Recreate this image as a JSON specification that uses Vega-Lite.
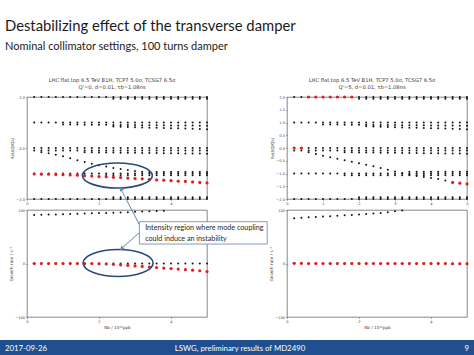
{
"$schema": "https://vega.github.io/schema/vega-lite/v6.json",
"padding": {"left": 0, "right": 0, "top": 18, "bottom": 0},
"background": "white",
"title": {"text": "Destabilizing effect of the transverse damper", "subtitle": "Nominal collimator settings, 100 turns damper", "anchor": "start", "frame": "group", "dx": 5, "offset": 26, "font": "Lato", "fontSize": 14.8, "fontWeight": "normal", "color": "#1b1b1b", "subtitleFont": "Lato", "subtitleFontSize": 11, "subtitleColor": "#1b1b1b", "subtitlePadding": 7},
"config": {
  "view": {"stroke": "#555555", "strokeWidth": 0.7},
  "axis": {"labelFont": "DejaVu Sans", "labelFontSize": 3.6, "labelColor": "#444444", "titleFont": "DejaVu Sans", "titleFontSize": 4.2, "titleFontWeight": "normal", "titleColor": "#444444", "tickSize": 1.5, "tickColor": "#555555", "tickWidth": 0.5, "domain": false, "grid": false, "labelPadding": 1, "labelOverlap": false, "labelFlush": false},
  "point": {"filled": true, "opacity": 1}
},
"datasets": {
"lt": [
{"x":0.2,"y":2,"m":"k"},{"x":0.4,"y":2,"m":"k"},{"x":0.6,"y":2,"m":"k"},{"x":0.8,"y":2,"m":"k"},{"x":1,"y":2,"m":"k"},{"x":1.2,"y":2,"m":"k"},{"x":1.4,"y":2,"m":"k"},{"x":1.6,"y":2,"m":"k"},{"x":1.8,"y":2,"m":"k"},{"x":2,"y":2,"m":"k"},{"x":2.2,"y":2,"m":"k"},{"x":2.4,"y":2,"m":"k"},{"x":2.6,"y":2,"m":"k"},{"x":2.8,"y":2,"m":"k"},{"x":3,"y":2,"m":"k"},{"x":3.2,"y":2,"m":"k"},{"x":3.4,"y":2,"m":"k"},{"x":3.6,"y":2,"m":"k"},{"x":3.8,"y":2,"m":"k"},{"x":4,"y":2,"m":"k"},{"x":4.2,"y":2,"m":"k"},{"x":4.4,"y":2,"m":"k"},{"x":4.6,"y":2,"m":"k"},{"x":4.8,"y":2,"m":"k"},{"x":5,"y":2,"m":"k"},
{"x":2.4,"y":1.93,"m":"k"},{"x":2.6,"y":1.93,"m":"k"},{"x":2.8,"y":1.93,"m":"k"},{"x":3,"y":1.93,"m":"k"},{"x":3.2,"y":1.93,"m":"k"},{"x":3.4,"y":1.93,"m":"k"},{"x":3.6,"y":1.93,"m":"k"},{"x":3.8,"y":1.93,"m":"k"},{"x":4,"y":1.93,"m":"k"},{"x":4.2,"y":1.93,"m":"k"},{"x":4.4,"y":1.93,"m":"k"},{"x":4.6,"y":1.93,"m":"k"},{"x":4.8,"y":1.93,"m":"k"},{"x":5,"y":1.93,"m":"k"},
{"x":0.2,"y":1,"m":"k"},{"x":0.4,"y":1,"m":"k"},{"x":0.6,"y":1,"m":"k"},{"x":0.8,"y":1,"m":"k"},{"x":1,"y":1,"m":"k"},{"x":1.2,"y":1,"m":"k"},{"x":1.4,"y":1,"m":"k"},{"x":1.6,"y":1,"m":"k"},{"x":1.8,"y":1,"m":"k"},{"x":2,"y":1,"m":"k"},{"x":2.2,"y":1,"m":"k"},{"x":2.4,"y":1,"m":"k"},{"x":2.6,"y":1,"m":"k"},{"x":2.8,"y":1,"m":"k"},{"x":3,"y":1,"m":"k"},{"x":3.2,"y":1,"m":"k"},{"x":3.4,"y":1,"m":"k"},{"x":3.6,"y":1,"m":"k"},{"x":3.8,"y":1,"m":"k"},{"x":4,"y":1,"m":"k"},{"x":4.2,"y":1,"m":"k"},{"x":4.4,"y":1,"m":"k"},{"x":4.6,"y":1,"m":"k"},{"x":4.8,"y":1,"m":"k"},{"x":5,"y":1,"m":"k"},
{"x":1,"y":0.92,"m":"k"},{"x":1.2,"y":0.92,"m":"k"},{"x":1.4,"y":0.92,"m":"k"},{"x":1.6,"y":0.915,"m":"k"},{"x":1.8,"y":0.915,"m":"k"},{"x":2,"y":0.91,"m":"k"},{"x":2.2,"y":0.91,"m":"k"},{"x":2.4,"y":0.905,"m":"k"},{"x":2.6,"y":0.905,"m":"k"},{"x":2.8,"y":0.9,"m":"k"},{"x":3,"y":0.9,"m":"k"},{"x":3.2,"y":0.895,"m":"k"},{"x":3.4,"y":0.895,"m":"k"},{"x":3.6,"y":0.89,"m":"k"},{"x":3.8,"y":0.89,"m":"k"},{"x":4,"y":0.885,"m":"k"},{"x":4.2,"y":0.885,"m":"k"},{"x":4.4,"y":0.88,"m":"k"},{"x":4.6,"y":0.88,"m":"k"},{"x":4.8,"y":0.875,"m":"k"},{"x":5,"y":0.875,"m":"k"},
{"x":2.4,"y":0.84,"m":"k"},{"x":2.6,"y":0.83,"m":"k"},{"x":2.8,"y":0.82,"m":"k"},{"x":3,"y":0.81,"m":"k"},{"x":3.2,"y":0.8,"m":"k"},{"x":3.4,"y":0.795,"m":"k"},{"x":3.6,"y":0.79,"m":"k"},{"x":3.8,"y":0.78,"m":"k"},{"x":4,"y":0.775,"m":"k"},{"x":4.2,"y":0.77,"m":"k"},{"x":4.4,"y":0.76,"m":"k"},{"x":4.6,"y":0.755,"m":"k"},{"x":4.8,"y":0.75,"m":"k"},{"x":5,"y":0.74,"m":"k"},
{"x":0.2,"y":0,"m":"k"},{"x":0.4,"y":0,"m":"k"},{"x":0.6,"y":0,"m":"k"},{"x":0.8,"y":0,"m":"k"},{"x":1,"y":0,"m":"k"},{"x":1.2,"y":0,"m":"k"},{"x":1.4,"y":0,"m":"k"},{"x":1.6,"y":0,"m":"k"},{"x":1.8,"y":0,"m":"k"},{"x":2,"y":0,"m":"k"},{"x":2.2,"y":0,"m":"k"},{"x":2.4,"y":0,"m":"k"},{"x":2.6,"y":0,"m":"k"},{"x":2.8,"y":0,"m":"k"},{"x":3,"y":0,"m":"k"},{"x":3.2,"y":0,"m":"k"},{"x":3.4,"y":0,"m":"k"},{"x":3.6,"y":0,"m":"k"},{"x":3.8,"y":0,"m":"k"},{"x":4,"y":0,"m":"k"},{"x":4.2,"y":0,"m":"k"},{"x":4.4,"y":0,"m":"k"},{"x":4.6,"y":0,"m":"k"},{"x":4.8,"y":0,"m":"k"},{"x":5,"y":0,"m":"k"},
{"x":0.2,"y":-0.1,"m":"k"},{"x":0.4,"y":-0.1,"m":"k"},{"x":0.6,"y":-0.1,"m":"k"},{"x":0.8,"y":-0.1,"m":"k"},{"x":1,"y":-0.1,"m":"k"},{"x":1.2,"y":-0.1,"m":"k"},{"x":1.4,"y":-0.1,"m":"k"},{"x":1.6,"y":-0.1,"m":"k"},{"x":1.8,"y":-0.1,"m":"k"},{"x":2,"y":-0.1,"m":"k"},{"x":2.2,"y":-0.1,"m":"k"},{"x":2.4,"y":-0.1,"m":"k"},{"x":2.6,"y":-0.1,"m":"k"},{"x":2.8,"y":-0.1,"m":"k"},{"x":3,"y":-0.1,"m":"k"},{"x":3.2,"y":-0.1,"m":"k"},{"x":3.4,"y":-0.1,"m":"k"},{"x":3.6,"y":-0.1,"m":"k"},{"x":3.8,"y":-0.1,"m":"k"},{"x":4,"y":-0.1,"m":"k"},{"x":4.2,"y":-0.1,"m":"k"},{"x":4.4,"y":-0.1,"m":"k"},{"x":4.6,"y":-0.1,"m":"k"},{"x":4.8,"y":-0.1,"m":"k"},{"x":5,"y":-0.1,"m":"k"},
{"x":1.6,"y":-0.17,"m":"k"},{"x":1.8,"y":-0.17,"m":"k"},{"x":2,"y":-0.175,"m":"k"},{"x":2.2,"y":-0.18,"m":"k"},{"x":2.4,"y":-0.18,"m":"k"},{"x":2.6,"y":-0.185,"m":"k"},{"x":2.8,"y":-0.19,"m":"k"},{"x":3,"y":-0.19,"m":"k"},{"x":3.2,"y":-0.195,"m":"k"},{"x":3.4,"y":-0.2,"m":"k"},{"x":3.6,"y":-0.2,"m":"k"},{"x":3.8,"y":-0.205,"m":"k"},{"x":4,"y":-0.21,"m":"k"},{"x":4.2,"y":-0.21,"m":"k"},{"x":4.4,"y":-0.215,"m":"k"},{"x":4.6,"y":-0.22,"m":"k"},{"x":4.8,"y":-0.22,"m":"k"},{"x":5,"y":-0.225,"m":"k"},
{"x":0.4,"y":-0.17,"m":"k"},{"x":0.6,"y":-0.21,"m":"k"},{"x":0.8,"y":-0.26,"m":"k"},{"x":1,"y":-0.32,"m":"k"},{"x":1.2,"y":-0.4,"m":"k"},{"x":1.4,"y":-0.48,"m":"k"},{"x":1.6,"y":-0.55,"m":"k"},{"x":1.8,"y":-0.62,"m":"k"},{"x":2,"y":-0.68,"m":"k"},{"x":2.2,"y":-0.73,"m":"k"},{"x":2.4,"y":-0.78,"m":"k"},{"x":2.6,"y":-0.82,"m":"k"},{"x":2.8,"y":-0.86,"m":"k"},{"x":3,"y":-0.9,"m":"k"},{"x":3.2,"y":-0.93,"m":"k"},{"x":3.4,"y":-0.95,"m":"k"},
{"x":3.6,"y":-0.94,"m":"k"},{"x":3.8,"y":-0.94,"m":"k"},{"x":4,"y":-0.94,"m":"k"},{"x":4.2,"y":-0.94,"m":"k"},{"x":4.4,"y":-0.94,"m":"k"},{"x":4.6,"y":-0.94,"m":"k"},{"x":4.8,"y":-0.94,"m":"k"},{"x":5,"y":-0.94,"m":"k"},
{"x":0.2,"y":-1,"m":"k"},{"x":0.4,"y":-1,"m":"k"},{"x":0.6,"y":-1,"m":"k"},{"x":0.8,"y":-1,"m":"k"},{"x":1,"y":-1,"m":"k"},{"x":1.2,"y":-1,"m":"k"},{"x":1.4,"y":-1,"m":"k"},{"x":1.6,"y":-1,"m":"k"},{"x":1.8,"y":-1,"m":"k"},{"x":2,"y":-1,"m":"k"},{"x":2.2,"y":-1,"m":"k"},{"x":2.4,"y":-1,"m":"k"},{"x":2.6,"y":-1,"m":"k"},{"x":2.8,"y":-1,"m":"k"},{"x":3,"y":-1,"m":"k"},{"x":3.2,"y":-1,"m":"k"},{"x":3.4,"y":-1,"m":"k"},{"x":3.6,"y":-1,"m":"k"},{"x":3.8,"y":-1,"m":"k"},{"x":4,"y":-1,"m":"k"},{"x":4.2,"y":-1,"m":"k"},{"x":4.4,"y":-1,"m":"k"},{"x":4.6,"y":-1,"m":"k"},{"x":4.8,"y":-1,"m":"k"},{"x":5,"y":-1,"m":"k"},
{"x":2.2,"y":-1.07,"m":"k"},{"x":2.4,"y":-1.07,"m":"k"},{"x":2.6,"y":-1.07,"m":"k"},{"x":2.8,"y":-1.07,"m":"k"},{"x":3,"y":-1.07,"m":"k"},{"x":3.2,"y":-1.07,"m":"k"},{"x":3.4,"y":-1.07,"m":"k"},{"x":3.6,"y":-1.07,"m":"k"},{"x":3.8,"y":-1.07,"m":"k"},{"x":4,"y":-1.07,"m":"k"},{"x":4.2,"y":-1.07,"m":"k"},{"x":4.4,"y":-1.07,"m":"k"},{"x":4.6,"y":-1.07,"m":"k"},{"x":4.8,"y":-1.07,"m":"k"},{"x":5,"y":-1.07,"m":"k"},
{"x":0.2,"y":-2,"m":"k"},{"x":0.4,"y":-2,"m":"k"},{"x":0.6,"y":-2,"m":"k"},{"x":0.8,"y":-2,"m":"k"},{"x":1,"y":-2,"m":"k"},{"x":1.2,"y":-2,"m":"k"},{"x":1.4,"y":-2,"m":"k"},{"x":1.6,"y":-2,"m":"k"},{"x":1.8,"y":-2,"m":"k"},{"x":2,"y":-2,"m":"k"},{"x":2.2,"y":-2,"m":"k"},{"x":2.4,"y":-2,"m":"k"},{"x":2.6,"y":-2,"m":"k"},{"x":2.8,"y":-2,"m":"k"},{"x":3,"y":-2,"m":"k"},{"x":3.2,"y":-2,"m":"k"},{"x":3.4,"y":-2,"m":"k"},{"x":3.6,"y":-2,"m":"k"},{"x":3.8,"y":-2,"m":"k"},{"x":4,"y":-2,"m":"k"},{"x":4.2,"y":-2,"m":"k"},{"x":4.4,"y":-2,"m":"k"},{"x":4.6,"y":-2,"m":"k"},{"x":4.8,"y":-2,"m":"k"},{"x":5,"y":-2,"m":"k"},
{"x":2.4,"y":-1.93,"m":"k"},{"x":2.6,"y":-1.93,"m":"k"},{"x":2.8,"y":-1.93,"m":"k"},{"x":3,"y":-1.93,"m":"k"},{"x":3.2,"y":-1.93,"m":"k"},{"x":3.4,"y":-1.93,"m":"k"},{"x":3.6,"y":-1.93,"m":"k"},{"x":3.8,"y":-1.93,"m":"k"},{"x":4,"y":-1.93,"m":"k"},{"x":4.2,"y":-1.93,"m":"k"},{"x":4.4,"y":-1.93,"m":"k"},{"x":4.6,"y":-1.93,"m":"k"},{"x":4.8,"y":-1.93,"m":"k"},{"x":5,"y":-1.93,"m":"k"},
{"x":0.2,"y":-1.02,"m":"r"},{"x":0.4,"y":-1.03,"m":"r"},{"x":0.6,"y":-1.03,"m":"r"},{"x":0.8,"y":-1.04,"m":"r"},{"x":1,"y":-1.05,"m":"r"},{"x":1.2,"y":-1.06,"m":"r"},{"x":1.4,"y":-1.07,"m":"r"},{"x":1.6,"y":-1.09,"m":"r"},{"x":1.8,"y":-1.1,"m":"r"},{"x":2,"y":-1.12,"m":"r"},{"x":2.2,"y":-1.13,"m":"r"},{"x":2.4,"y":-1.15,"m":"r"},{"x":2.6,"y":-1.16,"m":"r"},{"x":2.8,"y":-1.18,"m":"r"},{"x":3,"y":-1.2,"m":"r"},{"x":3.2,"y":-1.21,"m":"r"},{"x":3.4,"y":-1.23,"m":"r"},{"x":3.6,"y":-1.25,"m":"r"},{"x":3.8,"y":-1.26,"m":"r"},{"x":4,"y":-1.28,"m":"r"},{"x":4.2,"y":-1.3,"m":"r"},{"x":4.4,"y":-1.31,"m":"r"},{"x":4.6,"y":-1.33,"m":"r"},{"x":4.8,"y":-1.35,"m":"r"},{"x":5,"y":-1.37,"m":"r"}
],
"rt": [
{"x":0.2,"y":2,"m":"k"},{"x":0.4,"y":2,"m":"k"},{"x":0.6,"y":2,"m":"k"},{"x":0.8,"y":2,"m":"k"},{"x":1,"y":2,"m":"k"},{"x":1.2,"y":2,"m":"k"},{"x":1.4,"y":2,"m":"k"},{"x":1.6,"y":2,"m":"k"},{"x":1.8,"y":2,"m":"k"},{"x":2,"y":2,"m":"k"},{"x":2.2,"y":2,"m":"k"},{"x":2.4,"y":2,"m":"k"},{"x":2.6,"y":2,"m":"k"},{"x":2.8,"y":2,"m":"k"},{"x":3,"y":2,"m":"k"},{"x":3.2,"y":2,"m":"k"},{"x":3.4,"y":2,"m":"k"},{"x":3.6,"y":2,"m":"k"},{"x":3.8,"y":2,"m":"k"},{"x":4,"y":2,"m":"k"},{"x":4.2,"y":2,"m":"k"},{"x":4.4,"y":2,"m":"k"},{"x":4.6,"y":2,"m":"k"},{"x":4.8,"y":2,"m":"k"},{"x":5,"y":2,"m":"k"},
{"x":2,"y":1.93,"m":"k"},{"x":2.2,"y":1.93,"m":"k"},{"x":2.4,"y":1.93,"m":"k"},{"x":2.6,"y":1.93,"m":"k"},{"x":2.8,"y":1.93,"m":"k"},{"x":3,"y":1.93,"m":"k"},{"x":3.2,"y":1.93,"m":"k"},{"x":3.4,"y":1.93,"m":"k"},{"x":3.6,"y":1.93,"m":"k"},{"x":3.8,"y":1.93,"m":"k"},{"x":4,"y":1.93,"m":"k"},{"x":4.2,"y":1.93,"m":"k"},{"x":4.4,"y":1.93,"m":"k"},{"x":4.6,"y":1.93,"m":"k"},{"x":4.8,"y":1.93,"m":"k"},{"x":5,"y":1.93,"m":"k"},
{"x":0.2,"y":1,"m":"k"},{"x":0.4,"y":1,"m":"k"},{"x":0.6,"y":1,"m":"k"},{"x":0.8,"y":1,"m":"k"},{"x":1,"y":1,"m":"k"},{"x":1.2,"y":1,"m":"k"},{"x":1.4,"y":1,"m":"k"},{"x":1.6,"y":1,"m":"k"},{"x":1.8,"y":1,"m":"k"},{"x":2,"y":1,"m":"k"},{"x":2.2,"y":1,"m":"k"},{"x":2.4,"y":1,"m":"k"},{"x":2.6,"y":1,"m":"k"},{"x":2.8,"y":1,"m":"k"},{"x":3,"y":1,"m":"k"},{"x":3.2,"y":1,"m":"k"},{"x":3.4,"y":1,"m":"k"},{"x":3.6,"y":1,"m":"k"},{"x":3.8,"y":1,"m":"k"},{"x":4,"y":1,"m":"k"},{"x":4.2,"y":1,"m":"k"},{"x":4.4,"y":1,"m":"k"},{"x":4.6,"y":1,"m":"k"},{"x":4.8,"y":1,"m":"k"},{"x":5,"y":1,"m":"k"},
{"x":1,"y":0.92,"m":"k"},{"x":1.2,"y":0.92,"m":"k"},{"x":1.4,"y":0.92,"m":"k"},{"x":1.6,"y":0.915,"m":"k"},{"x":1.8,"y":0.915,"m":"k"},{"x":2,"y":0.91,"m":"k"},{"x":2.2,"y":0.91,"m":"k"},{"x":2.4,"y":0.905,"m":"k"},{"x":2.6,"y":0.905,"m":"k"},{"x":2.8,"y":0.9,"m":"k"},{"x":3,"y":0.9,"m":"k"},{"x":3.2,"y":0.895,"m":"k"},{"x":3.4,"y":0.895,"m":"k"},{"x":3.6,"y":0.89,"m":"k"},{"x":3.8,"y":0.89,"m":"k"},{"x":4,"y":0.885,"m":"k"},{"x":4.2,"y":0.885,"m":"k"},{"x":4.4,"y":0.88,"m":"k"},{"x":4.6,"y":0.88,"m":"k"},{"x":4.8,"y":0.875,"m":"k"},{"x":5,"y":0.875,"m":"k"},
{"x":2.2,"y":0.85,"m":"k"},{"x":2.4,"y":0.84,"m":"k"},{"x":2.6,"y":0.83,"m":"k"},{"x":2.8,"y":0.82,"m":"k"},{"x":3,"y":0.81,"m":"k"},{"x":3.2,"y":0.8,"m":"k"},{"x":3.4,"y":0.795,"m":"k"},{"x":3.6,"y":0.79,"m":"k"},{"x":3.8,"y":0.78,"m":"k"},{"x":4,"y":0.775,"m":"k"},{"x":4.2,"y":0.77,"m":"k"},{"x":4.4,"y":0.76,"m":"k"},{"x":4.6,"y":0.755,"m":"k"},{"x":4.8,"y":0.75,"m":"k"},{"x":5,"y":0.74,"m":"k"},
{"x":0.2,"y":0,"m":"k"},{"x":0.4,"y":0,"m":"k"},{"x":0.6,"y":0,"m":"k"},{"x":0.8,"y":0,"m":"k"},{"x":1,"y":0,"m":"k"},{"x":1.2,"y":0,"m":"k"},{"x":1.4,"y":0,"m":"k"},{"x":1.6,"y":0,"m":"k"},{"x":1.8,"y":0,"m":"k"},{"x":2,"y":0,"m":"k"},{"x":2.2,"y":0,"m":"k"},{"x":2.4,"y":0,"m":"k"},{"x":2.6,"y":0,"m":"k"},{"x":2.8,"y":0,"m":"k"},{"x":3,"y":0,"m":"k"},{"x":3.2,"y":0,"m":"k"},{"x":3.4,"y":0,"m":"k"},{"x":3.6,"y":0,"m":"k"},{"x":3.8,"y":0,"m":"k"},{"x":4,"y":0,"m":"k"},{"x":4.2,"y":0,"m":"k"},{"x":4.4,"y":0,"m":"k"},{"x":4.6,"y":0,"m":"k"},{"x":4.8,"y":0,"m":"k"},{"x":5,"y":0,"m":"k"},
{"x":0.2,"y":-0.1,"m":"k"},{"x":0.4,"y":-0.1,"m":"k"},{"x":0.6,"y":-0.1,"m":"k"},{"x":0.8,"y":-0.1,"m":"k"},{"x":1,"y":-0.1,"m":"k"},{"x":1.2,"y":-0.1,"m":"k"},{"x":1.4,"y":-0.1,"m":"k"},{"x":1.6,"y":-0.1,"m":"k"},{"x":1.8,"y":-0.1,"m":"k"},{"x":2,"y":-0.1,"m":"k"},{"x":2.2,"y":-0.1,"m":"k"},{"x":2.4,"y":-0.1,"m":"k"},{"x":2.6,"y":-0.1,"m":"k"},{"x":2.8,"y":-0.1,"m":"k"},{"x":3,"y":-0.1,"m":"k"},{"x":3.2,"y":-0.1,"m":"k"},{"x":3.4,"y":-0.1,"m":"k"},{"x":3.6,"y":-0.1,"m":"k"},{"x":3.8,"y":-0.1,"m":"k"},{"x":4,"y":-0.1,"m":"k"},{"x":4.2,"y":-0.1,"m":"k"},{"x":4.4,"y":-0.1,"m":"k"},{"x":4.6,"y":-0.1,"m":"k"},{"x":4.8,"y":-0.1,"m":"k"},{"x":5,"y":-0.1,"m":"k"},
{"x":1.6,"y":-0.17,"m":"k"},{"x":1.8,"y":-0.17,"m":"k"},{"x":2,"y":-0.175,"m":"k"},{"x":2.2,"y":-0.18,"m":"k"},{"x":2.4,"y":-0.18,"m":"k"},{"x":2.6,"y":-0.185,"m":"k"},{"x":2.8,"y":-0.19,"m":"k"},{"x":3,"y":-0.19,"m":"k"},{"x":3.2,"y":-0.195,"m":"k"},{"x":3.4,"y":-0.2,"m":"k"},{"x":3.6,"y":-0.2,"m":"k"},{"x":3.8,"y":-0.205,"m":"k"},{"x":4,"y":-0.21,"m":"k"},{"x":4.2,"y":-0.21,"m":"k"},{"x":4.4,"y":-0.215,"m":"k"},{"x":4.6,"y":-0.22,"m":"k"},{"x":4.8,"y":-0.22,"m":"k"},{"x":5,"y":-0.225,"m":"k"},
{"x":0.6,"y":-0.17,"m":"k"},{"x":0.8,"y":-0.24,"m":"k"},{"x":1,"y":-0.3,"m":"k"},{"x":1.2,"y":-0.36,"m":"k"},{"x":1.4,"y":-0.42,"m":"k"},{"x":1.6,"y":-0.48,"m":"k"},{"x":1.8,"y":-0.54,"m":"k"},{"x":2,"y":-0.6,"m":"k"},{"x":2.2,"y":-0.66,"m":"k"},{"x":2.4,"y":-0.72,"m":"k"},{"x":2.6,"y":-0.78,"m":"k"},{"x":2.8,"y":-0.85,"m":"k"},{"x":3,"y":-0.92,"m":"k"},{"x":3.2,"y":-0.98,"m":"k"},{"x":3.4,"y":-1.05,"m":"k"},{"x":3.6,"y":-1.1,"m":"k"},{"x":3.8,"y":-1.14,"m":"k"},{"x":4,"y":-1.18,"m":"k"},{"x":4.2,"y":-1.22,"m":"k"},{"x":4.4,"y":-1.27,"m":"k"},
{"x":0.2,"y":-1,"m":"k"},{"x":0.4,"y":-1,"m":"k"},{"x":0.6,"y":-1,"m":"k"},{"x":0.8,"y":-1,"m":"k"},{"x":1,"y":-1,"m":"k"},{"x":1.2,"y":-1,"m":"k"},{"x":1.4,"y":-1,"m":"k"},{"x":1.6,"y":-1,"m":"k"},{"x":1.8,"y":-1,"m":"k"},{"x":2,"y":-1,"m":"k"},{"x":2.2,"y":-1,"m":"k"},{"x":2.4,"y":-1,"m":"k"},{"x":2.6,"y":-1,"m":"k"},{"x":2.8,"y":-1,"m":"k"},{"x":3,"y":-1,"m":"k"},{"x":3.2,"y":-1,"m":"k"},{"x":3.4,"y":-1,"m":"k"},{"x":3.6,"y":-1,"m":"k"},{"x":3.8,"y":-1,"m":"k"},{"x":4,"y":-1,"m":"k"},{"x":4.2,"y":-1,"m":"k"},{"x":4.4,"y":-1,"m":"k"},{"x":4.6,"y":-1,"m":"k"},{"x":4.8,"y":-1,"m":"k"},{"x":5,"y":-1,"m":"k"},
{"x":1.6,"y":-1.07,"m":"k"},{"x":1.8,"y":-1.07,"m":"k"},{"x":2,"y":-1.07,"m":"k"},{"x":2.2,"y":-1.07,"m":"k"},{"x":2.4,"y":-1.07,"m":"k"},{"x":2.6,"y":-1.07,"m":"k"},{"x":2.8,"y":-1.07,"m":"k"},{"x":3,"y":-1.07,"m":"k"},{"x":3.2,"y":-1.07,"m":"k"},{"x":3.4,"y":-1.07,"m":"k"},{"x":3.6,"y":-1.07,"m":"k"},{"x":3.8,"y":-1.07,"m":"k"},{"x":4,"y":-1.07,"m":"k"},{"x":4.2,"y":-1.07,"m":"k"},{"x":4.4,"y":-1.07,"m":"k"},{"x":4.6,"y":-1.07,"m":"k"},{"x":4.8,"y":-1.07,"m":"k"},{"x":5,"y":-1.07,"m":"k"},
{"x":3.4,"y":-0.93,"m":"k"},{"x":3.6,"y":-0.93,"m":"k"},{"x":3.8,"y":-0.93,"m":"k"},{"x":4,"y":-0.93,"m":"k"},{"x":4.2,"y":-0.93,"m":"k"},{"x":4.4,"y":-0.93,"m":"k"},{"x":4.6,"y":-0.93,"m":"k"},{"x":4.8,"y":-0.93,"m":"k"},{"x":5,"y":-0.93,"m":"k"},
{"x":0.2,"y":-2,"m":"k"},{"x":0.4,"y":-2,"m":"k"},{"x":0.6,"y":-2,"m":"k"},{"x":0.8,"y":-2,"m":"k"},{"x":1,"y":-2,"m":"k"},{"x":1.2,"y":-2,"m":"k"},{"x":1.4,"y":-2,"m":"k"},{"x":1.6,"y":-2,"m":"k"},{"x":1.8,"y":-2,"m":"k"},{"x":2,"y":-2,"m":"k"},{"x":2.2,"y":-2,"m":"k"},{"x":2.4,"y":-2,"m":"k"},{"x":2.6,"y":-2,"m":"k"},{"x":2.8,"y":-2,"m":"k"},{"x":3,"y":-2,"m":"k"},{"x":3.2,"y":-2,"m":"k"},{"x":3.4,"y":-2,"m":"k"},{"x":3.6,"y":-2,"m":"k"},{"x":3.8,"y":-2,"m":"k"},{"x":4,"y":-2,"m":"k"},{"x":4.2,"y":-2,"m":"k"},{"x":4.4,"y":-2,"m":"k"},{"x":4.6,"y":-2,"m":"k"},{"x":4.8,"y":-2,"m":"k"},{"x":5,"y":-2,"m":"k"},
{"x":2,"y":-1.93,"m":"k"},{"x":2.2,"y":-1.93,"m":"k"},{"x":2.4,"y":-1.93,"m":"k"},{"x":2.6,"y":-1.93,"m":"k"},{"x":2.8,"y":-1.93,"m":"k"},{"x":3,"y":-1.93,"m":"k"},{"x":3.2,"y":-1.93,"m":"k"},{"x":3.4,"y":-1.93,"m":"k"},{"x":3.6,"y":-1.93,"m":"k"},{"x":3.8,"y":-1.93,"m":"k"},{"x":4,"y":-1.93,"m":"k"},{"x":4.2,"y":-1.93,"m":"k"},{"x":4.4,"y":-1.93,"m":"k"},{"x":4.6,"y":-1.93,"m":"k"},{"x":4.8,"y":-1.93,"m":"k"},{"x":5,"y":-1.93,"m":"k"},
{"x":0.2,"y":0,"m":"r"},{"x":0.4,"y":0,"m":"r"},{"x":0.6,"y":2,"m":"r"},{"x":0.8,"y":2,"m":"r"},{"x":1,"y":2,"m":"r"},{"x":1.2,"y":2,"m":"r"},{"x":1.4,"y":2,"m":"r"},{"x":1.6,"y":2,"m":"r"},{"x":1.8,"y":2,"m":"r"},{"x":4.6,"y":-1.35,"m":"r"},{"x":4.8,"y":-1.38,"m":"r"},{"x":5,"y":-1.41,"m":"r"}
],
"lb": [
{"x":0.2,"y":90.5,"m":"k"},{"x":0.4,"y":91,"m":"k"},{"x":0.6,"y":91.5,"m":"k"},{"x":0.8,"y":91.8,"m":"k"},{"x":1,"y":92.2,"m":"k"},{"x":1.2,"y":92.6,"m":"k"},{"x":1.4,"y":93,"m":"k"},{"x":1.6,"y":93.4,"m":"k"},{"x":1.8,"y":93.8,"m":"k"},{"x":2,"y":94.2,"m":"k"},{"x":2.2,"y":94.6,"m":"k"},{"x":2.4,"y":95,"m":"k"},{"x":2.6,"y":95.5,"m":"k"},{"x":2.8,"y":96,"m":"k"},{"x":3,"y":96.5,"m":"k"},{"x":3.2,"y":97,"m":"k"},{"x":3.4,"y":97.6,"m":"k"},{"x":3.6,"y":98.2,"m":"k"},{"x":3.8,"y":98.8,"m":"k"},
{"x":0.2,"y":0,"m":"k"},{"x":0.4,"y":0,"m":"k"},{"x":0.6,"y":0,"m":"k"},{"x":0.8,"y":0,"m":"k"},{"x":1,"y":0,"m":"k"},{"x":1.2,"y":0,"m":"k"},{"x":1.4,"y":0,"m":"k"},{"x":1.6,"y":0,"m":"k"},{"x":1.8,"y":0,"m":"k"},{"x":2,"y":0,"m":"k"},{"x":2.2,"y":0,"m":"k"},{"x":2.4,"y":0,"m":"k"},{"x":2.6,"y":0,"m":"k"},{"x":2.8,"y":0,"m":"k"},{"x":3,"y":0,"m":"k"},{"x":3.2,"y":0,"m":"k"},{"x":3.4,"y":0,"m":"k"},{"x":3.6,"y":0,"m":"k"},{"x":3.8,"y":0,"m":"k"},{"x":4,"y":0,"m":"k"},{"x":4.2,"y":0,"m":"k"},{"x":4.4,"y":0,"m":"k"},{"x":4.6,"y":0,"m":"k"},{"x":4.8,"y":0,"m":"k"},{"x":5,"y":0,"m":"k"},
{"x":0.2,"y":0,"m":"r"},{"x":0.4,"y":0,"m":"r"},{"x":0.6,"y":0,"m":"r"},{"x":0.8,"y":0,"m":"r"},{"x":1,"y":0,"m":"r"},{"x":1.2,"y":0,"m":"r"},{"x":1.4,"y":0,"m":"r"},{"x":1.6,"y":0,"m":"r"},{"x":1.8,"y":0,"m":"r"},{"x":2,"y":-0.5,"m":"r"},{"x":2.2,"y":-1,"m":"r"},{"x":2.4,"y":-1.5,"m":"r"},{"x":2.6,"y":-2.5,"m":"r"},{"x":2.8,"y":-3.5,"m":"r"},{"x":3,"y":-4.5,"m":"r"},{"x":3.2,"y":-5.5,"m":"r"},{"x":3.4,"y":-6.5,"m":"r"},{"x":3.6,"y":-7.5,"m":"r"},{"x":3.8,"y":-8.5,"m":"r"},{"x":4,"y":-9.5,"m":"r"},{"x":4.2,"y":-10.5,"m":"r"},{"x":4.4,"y":-11.5,"m":"r"},{"x":4.6,"y":-12.5,"m":"r"},{"x":4.8,"y":-13.5,"m":"r"},{"x":5,"y":-15,"m":"r"}
],
"rb": [
{"x":0.2,"y":84.5,"m":"k"},{"x":0.4,"y":85.5,"m":"k"},{"x":0.6,"y":86.3,"m":"k"},{"x":0.8,"y":87,"m":"k"},{"x":1,"y":87.8,"m":"k"},{"x":1.2,"y":88.5,"m":"k"},{"x":1.4,"y":89.2,"m":"k"},{"x":1.6,"y":90,"m":"k"},{"x":1.8,"y":90.8,"m":"k"},{"x":2,"y":91.6,"m":"k"},{"x":2.2,"y":92.5,"m":"k"},{"x":2.4,"y":93.5,"m":"k"},{"x":2.6,"y":94.6,"m":"k"},{"x":2.8,"y":96,"m":"k"},{"x":3,"y":97.5,"m":"k"},{"x":3.2,"y":99,"m":"k"},
{"x":0.2,"y":0,"m":"k"},{"x":0.4,"y":0,"m":"k"},{"x":0.6,"y":0,"m":"k"},{"x":0.8,"y":0,"m":"k"},{"x":1,"y":0,"m":"k"},{"x":1.2,"y":0,"m":"k"},{"x":1.4,"y":0,"m":"k"},{"x":1.6,"y":0,"m":"k"},{"x":1.8,"y":0,"m":"k"},{"x":2,"y":0,"m":"k"},{"x":2.2,"y":0,"m":"k"},{"x":2.4,"y":0,"m":"k"},{"x":2.6,"y":0,"m":"k"},{"x":2.8,"y":0,"m":"k"},{"x":3,"y":0,"m":"k"},{"x":3.2,"y":0,"m":"k"},{"x":3.4,"y":0,"m":"k"},{"x":3.6,"y":0,"m":"k"},{"x":3.8,"y":0,"m":"k"},{"x":4,"y":0,"m":"k"},{"x":4.2,"y":0,"m":"k"},{"x":4.4,"y":0,"m":"k"},{"x":4.6,"y":0,"m":"k"},{"x":4.8,"y":0,"m":"k"},{"x":5,"y":0,"m":"k"},
{"x":0.2,"y":0.5,"m":"r"},{"x":0.4,"y":0.5,"m":"r"},{"x":0.6,"y":0,"m":"r"},{"x":0.8,"y":0,"m":"r"},{"x":1,"y":0,"m":"r"},{"x":1.2,"y":0,"m":"r"},{"x":1.4,"y":0,"m":"r"},{"x":1.6,"y":0,"m":"r"},{"x":1.8,"y":0,"m":"r"},{"x":2,"y":0,"m":"r"},{"x":2.2,"y":0,"m":"r"},{"x":2.4,"y":0,"m":"r"},{"x":2.6,"y":0,"m":"r"},{"x":2.8,"y":0,"m":"r"},{"x":3,"y":0,"m":"r"},{"x":3.2,"y":0,"m":"r"},{"x":3.4,"y":0,"m":"r"},{"x":3.6,"y":0,"m":"r"},{"x":3.8,"y":0,"m":"r"},{"x":4,"y":0,"m":"r"},{"x":4.2,"y":0,"m":"r"},{"x":4.4,"y":0,"m":"r"},{"x":4.6,"y":-0.5,"m":"r"},{"x":4.8,"y":-0.5,"m":"r"},{"x":5,"y":-0.5,"m":"r"}
]
},
"vconcat": [
 {"concat": [
  {"width": 17, "height": 102, "view": {"stroke": null}, "data": {"values": []}, "mark": "point"},
  {"width": 180, "height": 102,
   "title": {"text": ["LHC flat top 6.5 TeV B1H, TCP7 5.0σ, TCSG7 6.5σ", "Q'=0, d=0.01, τb=1.08ns"], "font": "DejaVu Sans", "fontSize": 5.2, "fontWeight": "normal", "color": "#3a3a3a", "lineHeight": 6.8, "offset": 5, "anchor": "middle", "dx": -5},
   "layer": [
     {"data": {"name": "lt"}, "mark": {"type": "point", "shape": "circle", "filled": true, "opacity": 1},
      "encoding": {
        "x": {"field": "x", "type": "quantitative", "scale": {"domain": [0, 5], "nice": false}, "axis": {"values": [0, 1, 2, 3, 4, 5], "title": null, "labelOverlap": false}},
        "y": {"field": "y", "type": "quantitative", "scale": {"domain": [-2, 2], "nice": false}, "axis": {"values": [-2, -1.5, -1, -0.5, 0, 0.5, 1, 1.5, 2], "format": ".1f", "title": "Re(ΔQ/Qs)", "titlePadding": 1.5, "labelOverlap": false}},
        "color": {"field": "m", "type": "nominal", "scale": {"domain": ["k", "r"], "range": ["#141414", "#e0201c"]}, "legend": null},
        "size": {"field": "m", "type": "ordinal", "scale": {"domain": ["k", "r"], "range": [4, 10]}, "legend": null}
      }},
     {"data": {"values": [{"x": 2.51, "y": -1.08}]},
      "mark": {"type": "point", "shape": "M-1,0C-1,-0.197,-0.552,-0.357,0,-0.357C0.552,-0.357,1,-0.197,1,0C1,0.197,0.552,0.357,0,0.357C-0.552,0.357,-1,0.197,-1,0Z", "size": 4900, "filled": false, "stroke": "#2a4a78", "strokeWidth": 1.6, "opacity": 1},
      "encoding": {"x": {"field": "x", "type": "quantitative"}, "y": {"field": "y", "type": "quantitative"}}}
   ]},
  {"width": 60, "height": 102, "view": {"stroke": null}, "data": {"values": []}, "mark": "point"},
  {"width": 180, "height": 102,
   "title": {"text": ["LHC flat top 6.5 TeV B1H, TCP7 5.0σ, TCSG7 6.5σ", "Q'=5, d=0.01, τb=1.08ns"], "font": "DejaVu Sans", "fontSize": 5.2, "fontWeight": "normal", "color": "#3a3a3a", "lineHeight": 6.8, "offset": 5, "anchor": "middle", "dx": -5},
   "layer": [
     {"data": {"name": "rt"}, "mark": {"type": "point", "shape": "circle", "filled": true, "opacity": 1},
      "encoding": {
        "x": {"field": "x", "type": "quantitative", "scale": {"domain": [0, 5], "nice": false}, "axis": {"values": [0, 1, 2, 3, 4, 5], "title": null, "labelOverlap": false}},
        "y": {"field": "y", "type": "quantitative", "scale": {"domain": [-2, 2], "nice": false}, "axis": {"values": [-2, -1.5, -1, -0.5, 0, 0.5, 1, 1.5, 2], "format": ".1f", "title": "Re(ΔQ/Qs)", "titlePadding": 1.5, "labelOverlap": false}},
        "color": {"field": "m", "type": "nominal", "scale": {"domain": ["k", "r"], "range": ["#141414", "#e0201c"]}, "legend": null},
        "size": {"field": "m", "type": "ordinal", "scale": {"domain": ["k", "r"], "range": [4, 10]}, "legend": null}
      }}
   ]},
  {"width": 17, "height": 107, "view": {"stroke": null}, "data": {"values": []}, "mark": "point"},
  {"width": 180, "height": 107,
   "layer": [
     {"data": {"name": "lb"}, "mark": {"type": "point", "shape": "circle", "filled": true, "opacity": 1},
      "encoding": {
        "x": {"field": "x", "type": "quantitative", "scale": {"domain": [0, 5], "nice": false}, "axis": {"values": [0, 1, 2, 3, 4, 5], "title": "Nb / 10¹¹ppb", "titlePadding": 2, "labelOverlap": false}},
        "y": {"field": "y", "type": "quantitative", "scale": {"domain": [-100, 100], "nice": false}, "axis": {"values": [-100, -75, -50, -25, 0, 25, 50, 75, 100], "title": "Growth rate / s⁻¹", "titlePadding": 1.5, "labelOverlap": false}},
        "color": {"field": "m", "type": "nominal", "scale": {"domain": ["k", "r"], "range": ["#141414", "#e0201c"]}, "legend": null},
        "size": {"field": "m", "type": "ordinal", "scale": {"domain": ["k", "r"], "range": [4, 10]}, "legend": null}
      }},
     {"data": {"values": [{"x": 2.53, "y": 1}]},
      "mark": {"type": "point", "shape": "M-1,0C-1,-0.213,-0.552,-0.386,0,-0.386C0.552,-0.386,1,-0.213,1,0C1,0.213,0.552,0.386,0,0.386C-0.552,0.386,-1,0.213,-1,0Z", "size": 4900, "filled": false, "stroke": "#2a4a78", "strokeWidth": 1.6, "opacity": 1},
      "encoding": {"x": {"field": "x", "type": "quantitative"}, "y": {"field": "y", "type": "quantitative"}}},
     {"data": {"values": [{"x": 3.14, "y": 70.1, "xe": 2.58, "ye": 143}, {"x": 3.14, "y": 58.9, "xe": 2.58, "ye": 25.2}]},
      "mark": {"type": "rule", "color": "#6487b6", "strokeWidth": 1},
      "encoding": {"x": {"field": "x", "type": "quantitative"}, "y": {"field": "y", "type": "quantitative"}, "x2": {"field": "xe"}, "y2": {"field": "ye"}}},
     {"data": {"values": [{"x": 2.611, "y": 139.6}]},
      "mark": {"type": "point", "shape": "triangle-up", "size": 22, "filled": true, "color": "#6487b6", "opacity": 1, "angle": 331},
      "encoding": {"x": {"field": "x", "type": "quantitative"}, "y": {"field": "y", "type": "quantitative"}}},
     {"data": {"values": [{"x": 2.625, "y": 27.7}]},
      "mark": {"type": "point", "shape": "triangle-up", "size": 22, "filled": true, "color": "#6487b6", "opacity": 1, "angle": 228},
      "encoding": {"x": {"field": "x", "type": "quantitative"}, "y": {"field": "y", "type": "quantitative"}}}
   ]},
  {"width": 60, "height": 107, "view": {"stroke": null}, "data": {"values": []}, "mark": "point"},
  {"width": 180, "height": 107,
   "layer": [
     {"data": {"name": "rb"}, "mark": {"type": "point", "shape": "circle", "filled": true, "opacity": 1},
      "encoding": {
        "x": {"field": "x", "type": "quantitative", "scale": {"domain": [0, 5], "nice": false}, "axis": {"values": [0, 1, 2, 3, 4, 5], "title": "Nb / 10¹¹ppb", "titlePadding": 2, "labelOverlap": false}},
        "y": {"field": "y", "type": "quantitative", "scale": {"domain": [-100, 100], "nice": false}, "axis": {"values": [-100, -75, -50, -25, 0, 25, 50, 75, 100], "title": "Growth rate / s⁻¹", "titlePadding": 1.5, "labelOverlap": false}},
        "color": {"field": "m", "type": "nominal", "scale": {"domain": ["k", "r"], "range": ["#141414", "#e0201c"]}, "legend": null},
        "size": {"field": "m", "type": "ordinal", "scale": {"domain": ["k", "r"], "range": [4, 10]}, "legend": null}
      }},
     {"data": {"values": [{"x": -4.1, "xe": -0.55, "y": 78.1, "ye": 36.4}]},
      "mark": {"type": "rect", "fill": "white", "stroke": "#7f9bc2", "strokeWidth": 1},
      "encoding": {"x": {"field": "x", "type": "quantitative"}, "x2": {"field": "xe"}, "y": {"field": "y", "type": "quantitative"}, "y2": {"field": "ye"}}},
     {"data": {"values": [{"x": -3.94, "y": 66, "label": ["Intensity region where mode coupling", "could induce an instability"]}]},
      "mark": {"type": "text", "align": "left", "baseline": "middle", "font": "Lato", "fontSize": 7.2, "lineHeight": 10.5, "color": "#262626"},
      "encoding": {"x": {"field": "x", "type": "quantitative"}, "y": {"field": "y", "type": "quantitative"}, "text": {"field": "label"}}}
   ]}
 ],
 "columns": 4,
 "spacing": {"row": 11, "column": 10},
 "bounds": "flush"},
 {"width": 474, "height": 18, "view": {"fill": "#1f4f8e", "stroke": null},
   "layer": [
     {"data": {"values": [{"slot": "date", "label": "2017-09-26"}]},
      "mark": {"type": "text", "align": "left", "baseline": "middle", "dx": 5, "color": "white", "font": "Lato", "fontSize": 7.8},
      "encoding": {"x": {"field": "slot", "type": "nominal", "scale": {"type": "point", "domain": ["date", "event", "page"], "padding": 0}, "axis": null}, "text": {"field": "label"}}},
     {"data": {"values": [{"slot": "event", "label": "LSWG, preliminary results of MD2490"}]},
      "mark": {"type": "text", "align": "center", "baseline": "middle", "dx": 3, "color": "white", "font": "Lato", "fontSize": 7.8},
      "encoding": {"x": {"field": "slot", "type": "nominal"}, "text": {"field": "label"}}},
     {"data": {"values": [{"slot": "page", "label": "9"}]},
      "mark": {"type": "text", "align": "right", "baseline": "middle", "dx": -5, "color": "white", "font": "Lato", "fontSize": 7.8},
      "encoding": {"x": {"field": "slot", "type": "nominal"}, "text": {"field": "label"}}}
   ]}
],
"spacing": 10
}
